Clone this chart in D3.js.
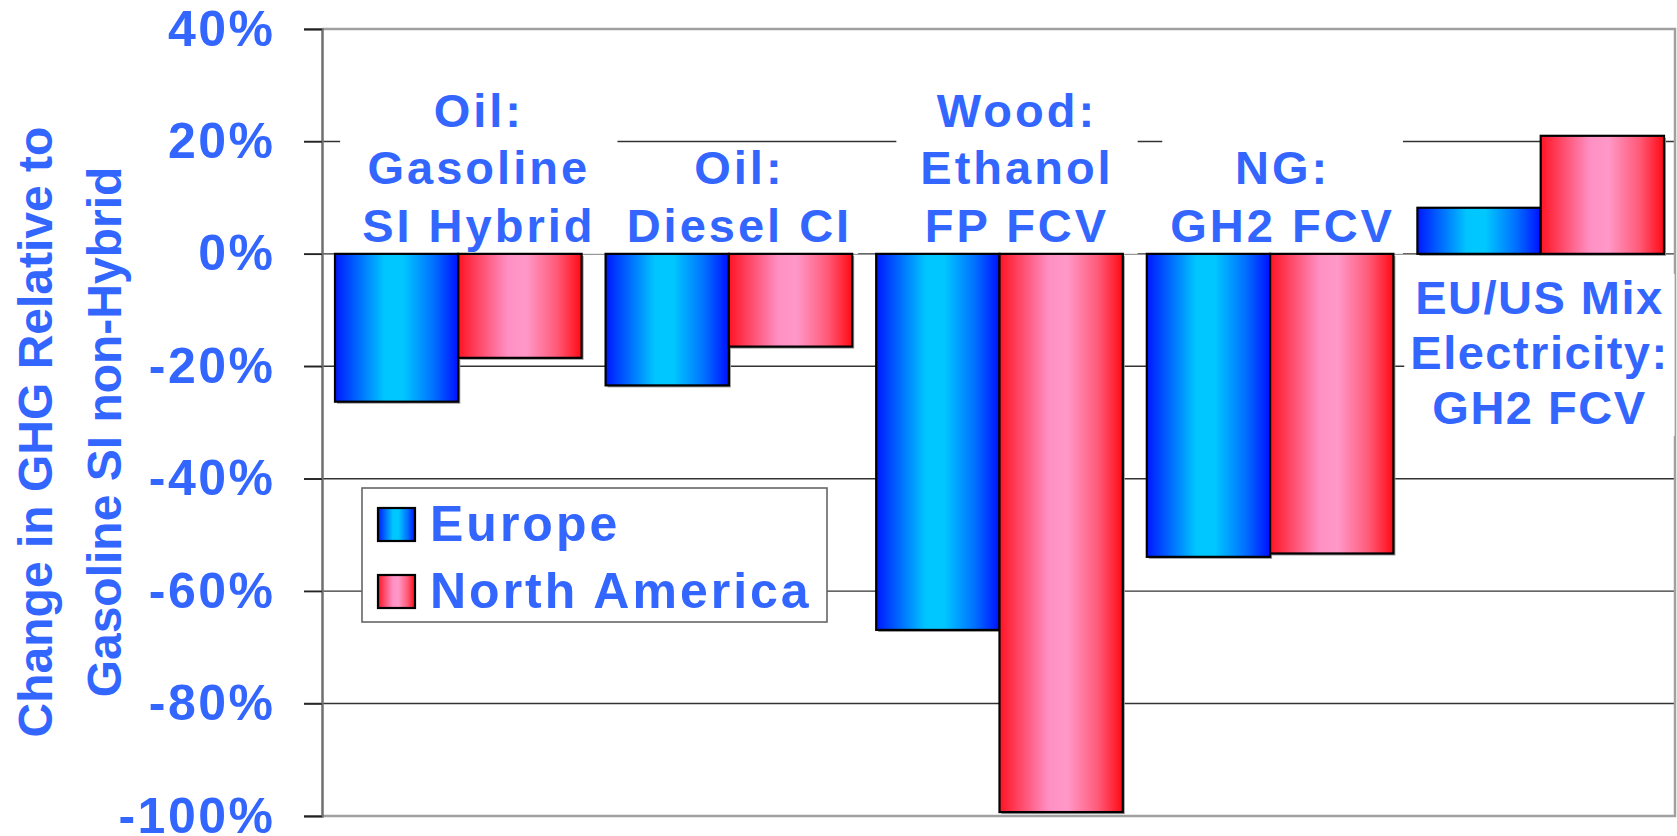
<!DOCTYPE html>
<html>
<head>
<meta charset="utf-8">
<script src="https://cdn.jsdelivr.net/npm/d3@7"></script>
<style>
  html, body { margin: 0; padding: 0; background: #ffffff; }
  svg { display: block; }
  text { font-family: "Liberation Sans", Arial, Helvetica, sans-serif; font-weight: bold; fill: #3366ff; }
</style>
</head>
<body>
<svg id="chart" width="1677" height="836"></svg>
<script>
// ---------------- data ----------------
const categories = ["Oil: Gasoline SI Hybrid", "Oil: Diesel CI", "Wood: Ethanol FP FCV", "NG: GH2 FCV", "EU/US Mix Electricity: GH2 FCV"];
const seriesNames = ["Europe", "North America"];
const europeValues = [-0.263, -0.234, -0.669, -0.539, 0.082];
const northAmericaValues = [-0.185, -0.165, -0.993, -0.533, 0.210];
const yTicks = [0.4, 0.2, 0, -0.2, -0.4, -0.6, -0.8, -1.0];
const yTickLabels = ["40%", "20%", "0%", "-20%", "-40%", "-60%", "-80%", "-100%"];
const categoryLabelLines = [
  ["Oil:", "Gasoline", "SI Hybrid"],
  ["Oil:", "Diesel CI"],
  ["Wood:", "Ethanol", "FP FCV"],
  ["NG:", "GH2 FCV"],
  ["EU/US Mix", "Electricity:", "GH2 FCV"]
];
const yTitleLines = ["Change in GHG Relative to", "Gasoline SI non-Hybrid"];

// ---------------- layout ----------------
const plot = { left: 322, right: 1675, top: 29, bottom: 816 };
const labelLayout = [
  { dx: 20, anchor: "bottom", padX: 22, padTop: 6, ls: 3 },
  { dx: 10, anchor: "bottom", padX: 6, padTop: 5, ls: 3 },
  { dx: 17, anchor: "bottom", padX: 24, padTop: 6, ls: 3 },
  { dx: 12, anchor: "bottom", padX: 8, padTop: 14, ls: 3 },
  { dx: -1, anchor: "top", padX: 6, padTop: 6, ls: 1.5 }
];

const svg = d3.select("#chart");
const defs = svg.append("defs");

function gradient(id, stops) {
  const g = defs.append("linearGradient").attr("id", id)
    .attr("x1", "0").attr("y1", "0").attr("x2", "1").attr("y2", "0");
  stops.forEach(s => g.append("stop").attr("offset", s[0]).attr("stop-color", s[1]));
}
gradient("gradBlue", [[0, "#0018ff"], [0.40, "#00c6ff"], [0.55, "#00c8ff"], [0.80, "#0070ff"], [1, "#0010ff"]]);
gradient("gradRed", [[0, "#ff1424"], [0.40, "#ff90c4"], [0.55, "#ff98c8"], [0.80, "#ff5a78"], [1, "#ff0a14"]]);
const fills = ["url(#gradBlue)", "url(#gradRed)"];

// scales
const y = d3.scaleLinear().domain([-1, 0.4]).range([plot.bottom, plot.top]);
const x0 = d3.scaleBand().domain(categories).range([plot.left, plot.right]).padding(0);
const x1 = d3.scaleBand().domain(seriesNames).range([13, x0.bandwidth() - 11]).padding(0);

// plot background
svg.append("rect")
  .attr("x", plot.left).attr("y", plot.top)
  .attr("width", plot.right - plot.left).attr("height", plot.bottom - plot.top)
  .attr("fill", "#ffffff");

// gridlines + ticks (extend left of axis as tick marks)
const grid = svg.append("g");
grid.selectAll("line").data(yTicks).enter().append("line")
  .attr("x1", plot.left - 18).attr("x2", plot.right)
  .attr("y1", d => y(d)).attr("y2", d => y(d))
  .attr("stroke", "#333333").attr("stroke-width", 1.4);

// plot border (top, right, bottom) in gray
svg.append("path")
  .attr("d", `M${plot.left},${plot.top} H${plot.right} V${plot.bottom} H${plot.left}`)
  .attr("fill", "none").attr("stroke", "#a0a0a0").attr("stroke-width", 2.5);

// y axis via d3 axis
const yAxis = d3.axisLeft(y).tickValues(yTicks).tickSize(18).tickFormat((d, i) => yTickLabels[i]).tickPadding(31);
const ax = svg.append("g").attr("transform", `translate(${plot.left},0)`).call(yAxis);
ax.select(".domain").attr("stroke", "#707070").attr("stroke-width", 2.5);
ax.selectAll(".tick line").attr("stroke", "#222").attr("stroke-width", 1.4);
ax.selectAll(".tick text")
  .attr("fill", "#3366ff")
  .style("font-family", "'Liberation Sans', Arial, sans-serif")
  .style("font-weight", "bold")
  .style("font-size", "50px")
  .style("letter-spacing", "2.5px")
  .attr("dx", "2.5px");

// category label boxes + text
const labelsG = svg.append("g");
categoryLabelLines.forEach((lines, i) => {
  const lay = labelLayout[i];
  const cx = x0(categories[i]) + x0.bandwidth() / 2 + lay.dx;
  let baselines;
  if (lay.anchor === "bottom") {
    const last = y(0) - 12;
    baselines = lines.map((_, k) => last - (lines.length - 1 - k) * 57.5);
  } else {
    const first = y(0) + 60;
    baselines = lines.map((_, k) => first + k * 55);
  }
  const g = labelsG.append("g");
  const box = g.append("rect").attr("fill", "#ffffff");
  const t = g.append("text")
    .attr("text-anchor", "middle")
    .style("font-size", "47px")
    .style("letter-spacing", lay.ls + "px");
  lines.forEach((ln, k) => {
    t.append("tspan").attr("x", cx + lay.ls / 2).attr("y", baselines[k]).text(ln);
  });
  const bb = t.node().getBBox();
  const top = baselines[0] - 34 - lay.padTop;
  box.attr("x", bb.x - lay.padX).attr("y", top).attr("width", bb.width + 2 * lay.padX)
     .attr("height", baselines[baselines.length - 1] + 12 - top);
});

// bars
const tableRows = categories.map((c, i) => ({ cat: c, values: [europeValues[i], northAmericaValues[i]] }));
const barsG = svg.append("g");
const groups = barsG.selectAll("g").data(tableRows).enter().append("g")
  .attr("transform", d => `translate(${x0(d.cat)},0)`);
// shadows
groups.selectAll("rect.shadow").data(d => d.values.map((v, k) => ({ v, k }))).enter().append("rect")
  .attr("class", "shadow")
  .attr("x", d => x1(seriesNames[d.k]) + 2)
  .attr("y", d => Math.min(y(d.v), y(0)) + 2)
  .attr("width", x1.bandwidth())
  .attr("height", d => Math.abs(y(d.v) - y(0)))
  .attr("fill", "#9a9a9a");
groups.selectAll("rect.bar").data(d => d.values.map((v, k) => ({ v, k }))).enter().append("rect")
  .attr("class", "bar")
  .attr("x", d => x1(seriesNames[d.k]))
  .attr("y", d => Math.min(y(d.v), y(0)))
  .attr("width", x1.bandwidth())
  .attr("height", d => Math.abs(y(d.v) - y(0)))
  .attr("fill", d => fills[d.k])
  .attr("stroke", "#000").attr("stroke-width", 2.2);

// legend
const legend = svg.append("g");
legend.append("rect")
  .attr("x", 362).attr("y", 488).attr("width", 465).attr("height", 134)
  .attr("fill", "#ffffff").attr("stroke", "#666666").attr("stroke-width", 1.6);
seriesNames.forEach((name, i) => {
  const yy = 508 + i * 67;
  legend.append("rect")
    .attr("x", 378).attr("y", yy).attr("width", 37).attr("height", 33)
    .attr("fill", fills[i]).attr("stroke", "#000").attr("stroke-width", 2.2);
  legend.append("text")
    .attr("x", 430).attr("y", yy + 33)
    .style("font-size", "50px").style("letter-spacing", "3px")
    .text(name);
});

// y axis title
const titleG = svg.append("g");
const titleCy = 432;
const titleBaselinesX = [52, 121];
yTitleLines.forEach((ln, i) => {
  titleG.append("text")
    .attr("transform", `translate(${titleBaselinesX[i]},${titleCy}) rotate(-90)`)
    .attr("text-anchor", "middle")
    .style("font-size", "48px")
    .text(ln);
});
</script>
</body>
</html>
